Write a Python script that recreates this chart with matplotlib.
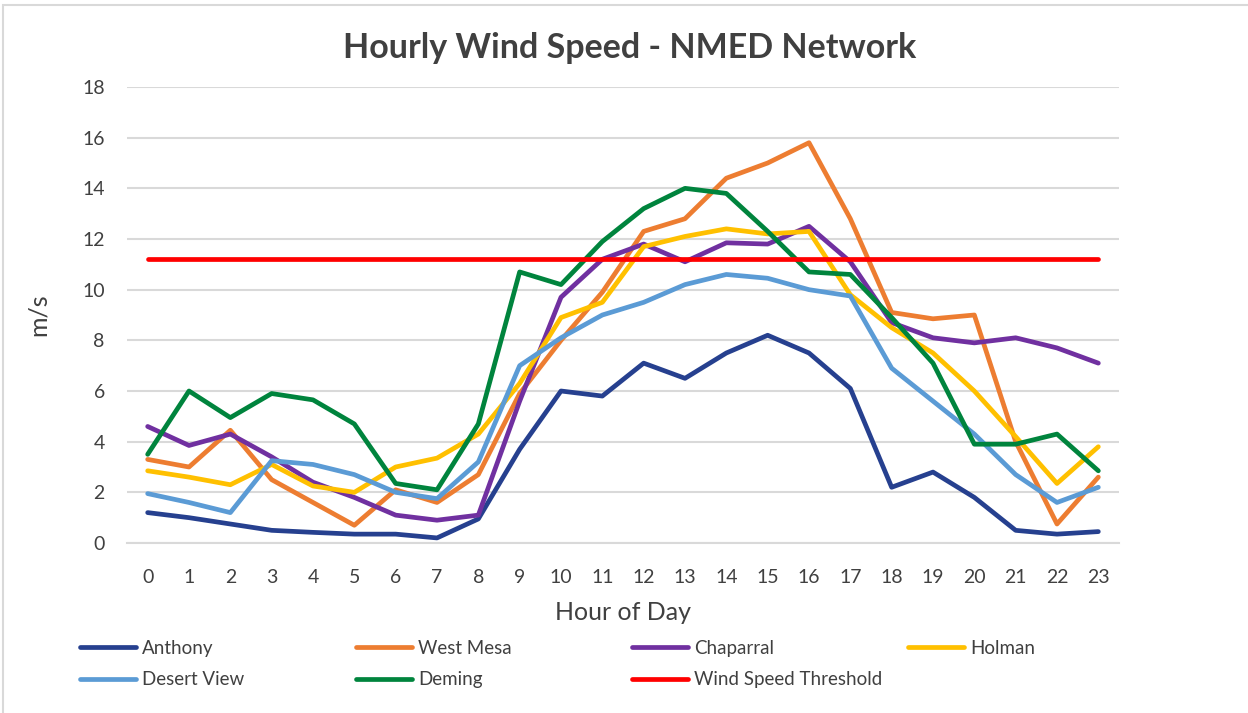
import matplotlib
matplotlib.use("Agg")
import matplotlib.pyplot as plt
from matplotlib.patches import Rectangle

hours = list(range(24))
hour_labels = [str(h) for h in hours]

anthony = [1.2, 1.0, 0.75, 0.5, 0.42, 0.35, 0.35, 0.2, 0.95, 3.7, 6.0, 5.8, 7.1, 6.5, 7.5, 8.2, 7.5, 6.1, 2.2, 2.8, 1.8, 0.5, 0.35, 0.45]
west_mesa = [3.3, 3.0, 4.45, 2.5, 1.6, 0.7, 2.1, 1.6, 2.7, 5.9, 8.0, 9.9, 12.3, 12.8, 14.4, 15.0, 15.8, 12.8, 9.1, 8.85, 9.0, 4.0, 0.75, 2.6]
chaparral = [4.6, 3.85, 4.3, 3.4, 2.4, 1.8, 1.1, 0.9, 1.1, 5.6, 9.7, 11.2, 11.8, 11.1, 11.85, 11.8, 12.5, 11.1, 8.7, 8.1, 7.9, 8.1, 7.7, 7.1]
holman = [2.85, 2.6, 2.3, 3.1, 2.25, 2.0, 3.0, 3.35, 4.3, 6.3, 8.9, 9.5, 11.7, 12.1, 12.4, 12.2, 12.3, 9.8, 8.5, 7.5, 6.0, 4.2, 2.35, 3.8]
desert_view = [1.95, 1.6, 1.2, 3.25, 3.1, 2.7, 2.0, 1.75, 3.2, 7.0, 8.1, 9.0, 9.5, 10.2, 10.6, 10.45, 10.0, 9.75, 6.9, 5.6, 4.3, 2.7, 1.6, 2.2]
deming = [3.5, 6.0, 4.95, 5.9, 5.65, 4.7, 2.35, 2.1, 4.7, 10.7, 10.2, 11.9, 13.2, 14.0, 13.8, 12.3, 10.7, 10.6, 8.9, 7.1, 3.9, 3.9, 4.3, 2.85]
threshold = [11.2] * 24

series_names = ["Anthony", "West Mesa", "Chaparral", "Holman", "Desert View", "Deming", "Wind Speed Threshold"]
series_values = [anthony, west_mesa, chaparral, holman, desert_view, deming, threshold]
series_colors = ["#26408F", "#ED7D31", "#7030A0", "#FFC000", "#5B9BD5", "#00843D", "#FF0000"]

plt.rcParams['font.family'] = ['Lato', 'DejaVu Sans']

fig = plt.figure(figsize=(12.48, 7.13), dpi=100)
ax = fig.add_axes([127/1248, 1-543/713, (1119-127)/1248, (543-87)/713])

lines = {}
for name, vals, col in zip(series_names, series_values, series_colors):
    ln, = ax.plot(hours, vals, color=col, lw=3.4, solid_capstyle='round', solid_joinstyle='round', label=name, zorder=3)
    lines[name] = ln

ax.set_xlim(-0.5, 23.5)
ax.set_ylim(0, 18)
ax.set_yticks(range(0, 19, 2))
ax.set_xticks(hours)
ax.set_xticklabels(hour_labels)
ax.grid(axis='y', color='#D9D9D9', lw=1.5, zorder=0)
ax.set_axisbelow(True)
for s in ['top', 'right', 'left']:
    ax.spines[s].set_visible(False)
ax.spines['bottom'].set_color('#D9D9D9')
ax.spines['bottom'].set_linewidth(1.5)
ax.tick_params(axis='both', length=0, labelsize=14, labelcolor='#404040')
ax.tick_params(axis='y', pad=16)
ax.tick_params(axis='x', pad=19)

fig.text(630/1248, 1-48/713, "Hourly Wind Speed - NMED Network", ha='center', va='center',
         fontsize=24.5, fontweight='bold', color='#404040')
fig.text(38/1248, 1-315/713, "m/s", ha='center', va='center', rotation=90, fontsize=18, color='#404040')
fig.text(623/1248, 1-613/713, "Hour of Day", ha='center', va='center', fontsize=18, color='#404040')

columns = [["Anthony", "Desert View"], ["West Mesa", "Deming"], ["Chaparral", "Wind Speed Threshold"], ["Holman"]]
col_x = [80, 356, 632, 908]
for names, x in zip(columns, col_x):
    leg = fig.legend([lines[n] for n in names], names, loc='upper left',
                     bbox_to_anchor=(x/1248, 1-640/713), frameon=False, borderpad=0,
                     borderaxespad=0, handlelength=3.0, handletextpad=0.3, labelspacing=0.75,
                     fontsize=13.5, labelcolor='#404040')

fig.add_artist(Rectangle((3/1248, -0.05), 1.2, 1-5/713+0.05, transform=fig.transFigure,
                         fill=False, edgecolor='#D9D9D9', lw=1.5))

fig.savefig("out.png", dpi=100)
